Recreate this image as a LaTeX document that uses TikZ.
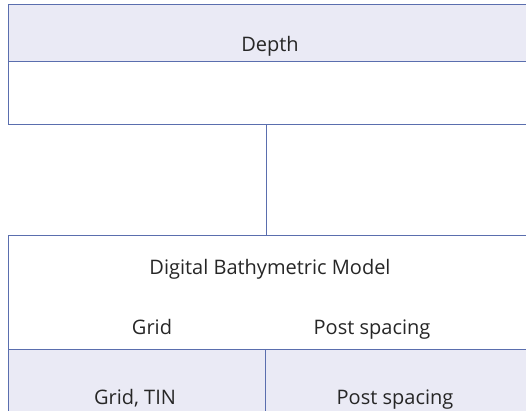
\documentclass[tikz,border=0pt]{standalone}
\usepackage{fontspec}
\setmainfont{Open Sans}
\definecolor{edge}{HTML}{5A6EAE}
\definecolor{band}{HTML}{EAEAF5}
\tikzset{
  frame/.style={draw=edge, line width=1pt},
  lbl/.style={font=\fontsize{20}{22}\selectfont, text=black!85, inner sep=0pt, anchor=base}
}
\begin{document}
\begin{tikzpicture}[x=1pt,y=1pt]
\useasboundingbox (0,0) rectangle (526,410);
\begin{scope}
\clip (0,0) rectangle (526,410);
% top box
\fill[band] (8,348) rectangle (532,405);
\draw[frame] (8,285) rectangle (532,405);
\draw[frame] (8,348) -- (532,348);
% bottom box
\fill[band] (8,-5) rectangle (532,61);
\draw[frame] (8,-5) rectangle (532,175);
\draw[frame] (8,61) -- (532,61);
\draw[frame] (265,-5) -- (265,61);
\end{scope}
\coordinate (topb) at (266,285);
\coordinate (botb) at (266,175);
\draw[frame] (topb) -- (botb);
\node[lbl] (depth) at (270,358) {Depth};
\node[lbl] (dbm) at (270,136) {Digital Bathymetric Model};
\node[lbl] (grid) at (152,76) {Grid};
\node[lbl] (ps1) at (372,76) {Post spacing};
\node[lbl] (gt) at (135,6) {Grid, TIN};
\node[lbl] (ps2) at (395,6) {Post spacing};
\end{tikzpicture}
\end{document}
